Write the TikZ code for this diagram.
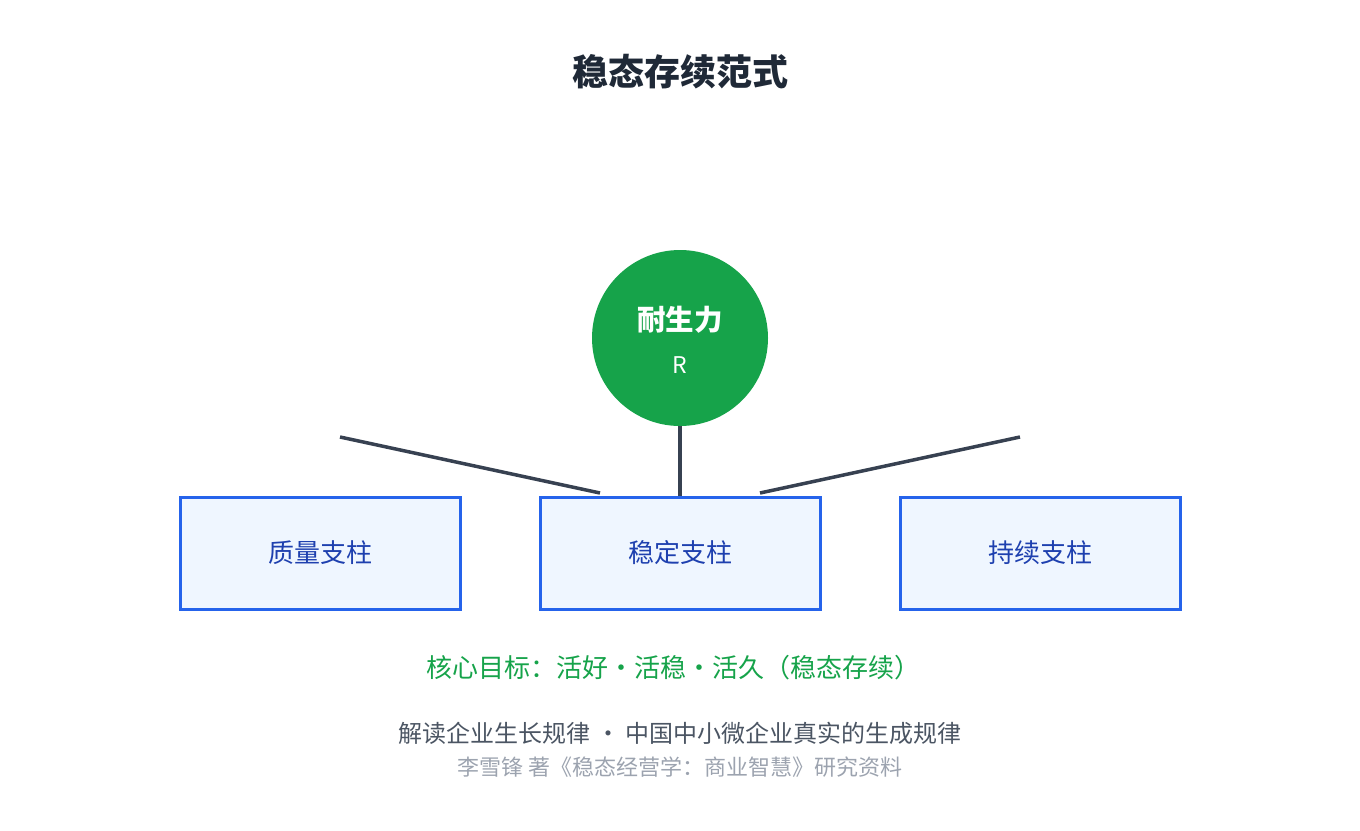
\documentclass[tikz,border=0pt]{standalone}
\usepackage{fontspec}
\setmainfont{Noto Sans CJK SC}
\newfontfamily\cjkm{Noto Sans CJK SC Medium}
\definecolor{ttl}{HTML}{1F2937}
\definecolor{gr}{HTML}{16A34A}
\definecolor{ln}{HTML}{374151}
\definecolor{bfill}{HTML}{EFF6FF}
\definecolor{bdraw}{HTML}{2563EB}
\definecolor{btxt}{HTML}{1E40AF}
\definecolor{ft1}{HTML}{4B5563}
\definecolor{ft2}{HTML}{9CA3AF}
\begin{document}
\begin{tikzpicture}[x=1pt,y=-1pt,
  pillar/.style={draw=bdraw,fill=bfill,line width=3pt,minimum width=280pt,minimum height=112pt,inner sep=0pt,text=btxt,font=\fontsize{26}{30}\selectfont},
  conn/.style={draw=ln,line width=3.5pt}]
\useasboundingbox (0,0) rectangle (1360,830);
\node[font=\fontsize{36}{42}\selectfont\bfseries,text=ttl] (title) at (680,72) {稳态存续范式};
\node[circle,fill=gr,minimum size=176pt,inner sep=0pt] (core) at (680,338) {};
\node[text=white,font=\fontsize{28.5}{32}\selectfont\bfseries] (corel) at (680,320) {耐生力};
\node[text=white,font=\fontsize{23}{27}\selectfont] (corer) at (680,365) {R};
\node[pillar] (p1) at (320,553) {质量支柱};
\node[pillar] (p2) at (680,553) {稳定支柱};
\node[pillar] (p3) at (1040,553) {持续支柱};
\coordinate (l1) at (340,437);
\coordinate (l2) at (600,493);
\coordinate (r1) at (1020,437);
\coordinate (r2) at (760,493);
\draw[conn] (l1) -- (l2);
\draw[conn] (r1) -- (r2);
\draw[conn] (core.south) -- (p2.north);
\node[text=gr,font=\fontsize{26}{30}\selectfont] (goal) at (673,668) {核心目标：活好・活稳・活久（稳态存续）};
\node[text=ft1,font=\fontsize{24}{28}\selectfont] (f1) at (680,733) {解读企业生长规律 ・ 中国中小微企业真实的生成规律};
\node[text=ft2,font=\fontsize{22}{26}\selectfont] (f2) at (680,767) {李雪锋 著《稳态经营学：商业智慧》研究资料};
\end{tikzpicture}
\end{document}
